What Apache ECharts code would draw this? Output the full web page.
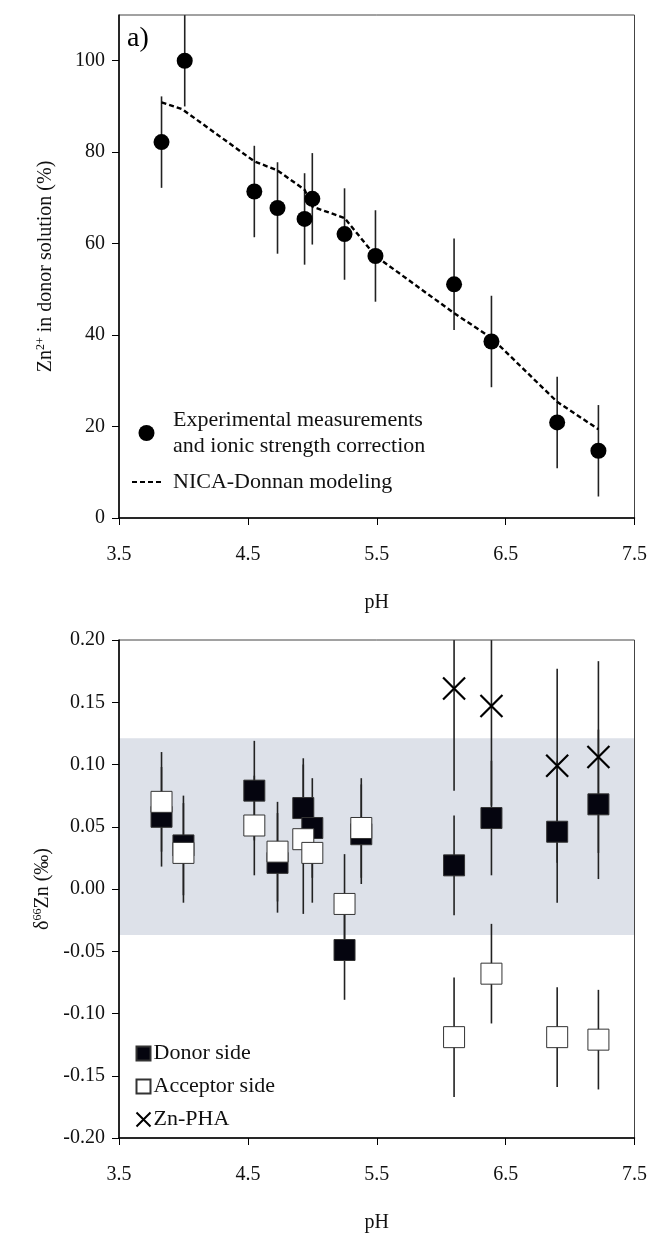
<!DOCTYPE html>
<html>
<head>
<meta charset="utf-8">
<script src="https://cdn.jsdelivr.net/npm/echarts@6/dist/echarts.min.js"></script>
<style>
  html, body { margin: 0; padding: 0; background: #fff; }
  #chart { width: 650px; height: 1234px; }
</style>
</head>
<body>
<div id="chart"></div>
<script>
// panel a) Zn2+ remaining in donor solution
const expPH = [3.83, 4.01, 4.55, 4.73, 4.94, 5.00, 5.25, 5.49, 6.10, 6.39, 6.90, 7.22];
const expZn = [82.2, 100, 71.4, 67.8, 65.4, 69.8, 62.1, 57.3, 51.1, 38.6, 20.9, 14.7];
const expErr = [10, 10, 10, 10, 10, 10, 10, 10, 10, 10, 10, 10];
const modelPH = [3.83, 3.99, 4.55, 4.73, 4.94, 5.00, 5.25, 5.49, 6.10, 6.39, 6.90, 7.22];
const modelZn = [90.9, 89.4, 78.0, 76.0, 71.8, 68.1, 65.6, 57.3, 44.8, 39.4, 25.4, 19.4];

// panel b) d66Zn
const isoPH = [3.83, 4.00, 4.55, 4.73, 4.93, 5.00, 5.25, 5.38, 6.10, 6.39, 6.90, 7.22];
const donor = [0.058, 0.035, 0.079, 0.021, 0.065, 0.049, -0.049, 0.044, 0.019, 0.057, 0.046, 0.068];
const donorErr = [0.04, 0.04, 0.04, 0.04, 0.04, 0.04, 0.04, 0.04, 0.04, 0.046, 0.057, 0.06];
const acceptor = [0.070, 0.029, 0.051, 0.030, 0.040, 0.029, -0.012, 0.049, -0.119, -0.068, -0.119, -0.121];
const acceptorErr = [0.04, 0.04, 0.04, 0.04, 0.06, 0.04, 0.04, 0.04, 0.048, 0.04, 0.04, 0.04];
const phaPH = [6.10, 6.39, 6.90, 7.22];
const pha = [0.161, 0.147, 0.099, 0.106];
const phaErr = [0.082, 0.08, 0.078, 0.077];
const band = [-0.037, 0.121];

const phTicks = [3.5, 4.5, 5.5, 6.5, 7.5];
const znTicks = [0, 20, 40, 60, 80, 100];

const FONT = 'Liberation Serif';
const legA1 = 'Experimental measurements\nand ionic strength correction';
const legA2 = 'NICA-Donnan modeling';

function bars(xs, ys, errs) {
  return xs.map((x, i) => [x, ys[i] - errs[i], ys[i] + errs[i]]);
}
function pts(xs, ys) {
  return xs.map((x, i) => [x, ys[i]]);
}

function errRender(params, api) {
  const x = api.value(0);
  const a = api.coord([x, api.value(2)]);
  const b = api.coord([x, api.value(1)]);
  const cs = params.coordSys;
  return {
    type: 'line',
    shape: { x1: a[0], y1: Math.max(a[1], cs.y), x2: a[0], y2: Math.min(b[1], cs.y + cs.height) },
    style: { stroke: '#222', lineWidth: 1.6 }
  };
}

function xAxisOf(idx) {
  return {
    gridIndex: idx, type: 'value', min: 3.5, max: 7.5, interval: 0.5, z: 10,
    name: 'pH', nameLocation: 'middle', nameGap: 75,
    nameTextStyle: { fontFamily: FONT, fontSize: 20, color: '#111' },
    axisLine: { onZero: false, lineStyle: { color: '#000', width: 1.5 } },
    axisTick: { customValues: phTicks, length: 7, lineStyle: { color: '#000' } },
    axisLabel: { customValues: phTicks, margin: 27, fontFamily: FONT, fontSize: 20, color: '#111',
      formatter: v => v.toFixed(1) },
    splitLine: { show: false }
  };
}

const supRich = {
  n: { fontFamily: FONT, fontSize: 20, color: '#111', lineHeight: 22 },
  s: { fontFamily: FONT, fontSize: 12, color: '#111', verticalAlign: 'top', lineHeight: 22 }
};

const chart = echarts.init(document.getElementById('chart'));
chart.setOption({
  animation: false,
  title: { text: 'a)', left: 122, top: 20, textStyle: { fontFamily: FONT, fontSize: 28, fontWeight: 'normal', color: '#000' } },
  grid: [
    { left: 119, right: 14, top: 15, height: 503, show: true, borderColor: '#444', borderWidth: 1, z: 3 },
    { left: 119, right: 14, top: 640, height: 502, show: true, borderColor: '#444', borderWidth: 1, z: 3 }
  ],
  legend: [
    {
      data: [legA1, { name: legA2, itemStyle: { color: 'rgba(0,0,0,0)', borderWidth: 0 } }],
      orient: 'vertical', left: 131, top: 407, itemGap: 10, padding: 0,
      itemWidth: 29, itemHeight: 16,
      textStyle: { fontFamily: FONT, fontSize: 22, lineHeight: 26, color: '#111', padding: [0, 0, 0, 7] }
    },
    {
      data: ['Donor side', 'Acceptor side', 'Zn-PHA'], orient: 'vertical', left: 134, top: 1041, itemGap: 8,
      itemWidth: 14, itemHeight: 14, padding: 0,
      textStyle: { fontFamily: FONT, fontSize: 22, lineHeight: 25, color: '#111', padding: [0, 0, 0, -2] }
    }
  ],
  xAxis: [xAxisOf(0), xAxisOf(1)],
  yAxis: [
    {
      gridIndex: 0, type: 'value', min: 0, max: 110, interval: 10, z: 10,
      name: '{n|Zn}{s|2+}{n| in donor solution (%)}', nameLocation: 'middle', nameGap: 62,
      nameTextStyle: { rich: supRich },
      axisLine: { onZero: false, lineStyle: { color: '#000', width: 1.5 } },
      axisTick: { customValues: znTicks, length: 7, lineStyle: { color: '#000' } },
      axisLabel: { customValues: znTicks, margin: 14, fontFamily: FONT, fontSize: 20, color: '#111' },
      splitLine: { show: false }
    },
    {
      gridIndex: 1, type: 'value', min: -0.2, max: 0.2, interval: 0.05, z: 10,
      name: '{n|δ}{s|66}{n|Zn (‰)}', nameLocation: 'middle', nameGap: 62,
      nameTextStyle: { rich: supRich },
      axisLine: { onZero: false, lineStyle: { color: '#000', width: 1.5 } },
      axisTick: { length: 7, lineStyle: { color: '#000' } },
      axisLabel: { margin: 14, fontFamily: FONT, fontSize: 20, color: '#111', formatter: v => v.toFixed(2) },
      splitLine: { show: false }
    }
  ],
  series: [
    // panel a
    {
      type: 'custom', xAxisIndex: 0, yAxisIndex: 0, renderItem: errRender,
      encode: { x: 0, y: [1, 2] }, data: bars(expPH, expZn, expErr), z: 2
    },
    {
      name: legA2, type: 'line', xAxisIndex: 0, yAxisIndex: 0, symbol: 'none',
      lineStyle: { color: '#000', width: 2.4, type: [5, 3] }, itemStyle: { color: '#000' },
      data: pts(modelPH, modelZn), z: 3
    },
    {
      name: legA1, type: 'scatter', xAxisIndex: 0, yAxisIndex: 0, symbol: 'circle', symbolSize: 16,
      itemStyle: { color: '#000', opacity: 1 }, data: pts(expPH, expZn), z: 4
    },
    // panel b
    {
      type: 'line', xAxisIndex: 1, yAxisIndex: 1, data: [], z: 1, silent: true,
      markArea: { silent: true, itemStyle: { color: '#dde1e9' }, data: [[{ yAxis: band[0] }, { yAxis: band[1] }]] }
    },
    {
      type: 'custom', xAxisIndex: 1, yAxisIndex: 1, renderItem: errRender,
      encode: { x: 0, y: [1, 2] }, data: bars(isoPH, donor, donorErr), z: 2
    },
    {
      type: 'custom', xAxisIndex: 1, yAxisIndex: 1, renderItem: errRender,
      encode: { x: 0, y: [1, 2] }, data: bars(isoPH, acceptor, acceptorErr), z: 2
    },
    {
      type: 'custom', xAxisIndex: 1, yAxisIndex: 1, renderItem: errRender,
      encode: { x: 0, y: [1, 2] }, data: bars(phaPH, pha, phaErr), z: 2
    },
    {
      name: 'Donor side', type: 'scatter', xAxisIndex: 1, yAxisIndex: 1, symbol: 'rect', symbolSize: 21,
      itemStyle: { color: '#05050f', borderColor: '#333', borderWidth: 1, opacity: 1 },
      data: pts(isoPH, donor), z: 4
    },
    {
      name: 'Acceptor side', type: 'scatter', xAxisIndex: 1, yAxisIndex: 1, symbol: 'rect', symbolSize: 21,
      itemStyle: { color: '#fff', borderColor: '#333', borderWidth: 1, opacity: 1 },
      data: pts(isoPH, acceptor), z: 5
    },
    {
      name: 'Zn-PHA', type: 'scatter', xAxisIndex: 1, yAxisIndex: 1,
      symbol: 'path://M0,0L20,20M20,0L0,20', symbolSize: 22,
      itemStyle: { color: 'none', borderColor: '#000', borderWidth: 2.2, opacity: 1 },
      data: pts(phaPH, pha), z: 6
    }
  ]
});
</script>
</body>
</html>
